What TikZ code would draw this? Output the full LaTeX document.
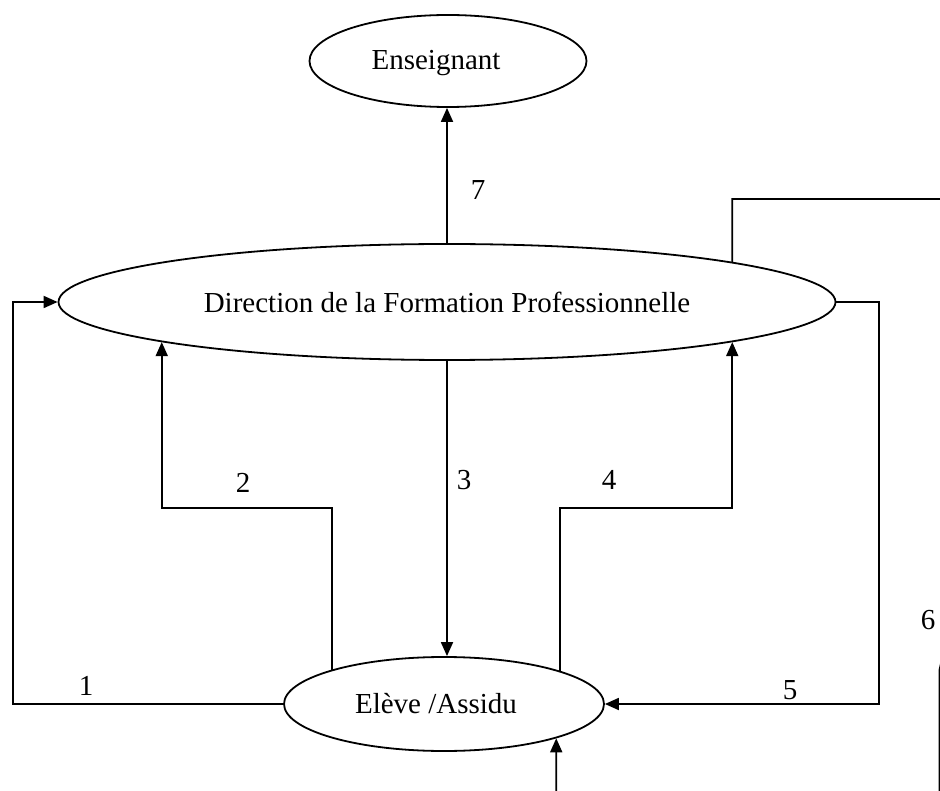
\documentclass[tikz,border=0pt]{standalone}
\usepackage{fontspec}
\setmainfont{Liberation Serif}
\usetikzlibrary{arrows.meta,shapes.geometric}
\begin{document}
\begin{tikzpicture}[x=1pt,y=-1pt, % y grows downward
  every node/.style={font=\fontsize{29}{34}\selectfont},
  entity/.style={draw, ellipse, line width=1.8pt, inner sep=0pt},
  flow/.style={line width=1.8pt},
  arr/.style={flow, -{Triangle[length=14pt,width=12pt]}},
  num/.style={inner sep=0pt}]
\useasboundingbox (0,0) rectangle (940,791);
\clip (0,0) rectangle (940,791);

% actors
\node[entity, minimum width=277pt, minimum height=92pt] (ens) at (448,61) {};
\node (enslabel) at ([xshift=-12pt,yshift=-2pt]ens.center) {Enseignant};
\node[entity, minimum width=777pt, minimum height=116pt] (dfp) at (447,302) {Direction de la Formation Professionnelle};
\node[entity, minimum width=320pt, minimum height=94pt] (elv) at (444,704) {};
\node (elvlabel) at ([xshift=-8pt]elv.center) {Elève /Assidu};

% routing rails
\coordinate (leftrail) at (13,0);
\coordinate (rightrail) at (879,0);
\coordinate (midrow) at (0,508);
\coordinate (toprow) at (0,199);
\coordinate (farright) at (944,0);
\coordinate (offpage) at (0,805);
\coordinate (edgeA) at (944,650);
\coordinate (edgeB) at (939.5,670);
\coordinate (edgeC) at (939.5,805);

% flows
\draw[arr] (elv.west) -- (elv.west -| leftrail) |- (dfp.west);
\draw[arr] (elv.163) -- (elv.163 |- midrow) -| (dfp.188.5);
\draw[arr] (dfp.south) -- (dfp.south |- elv.north);
\draw[arr] (elv.16) -- (elv.16 |- midrow) -| (dfp.-8.5);
\draw[arr] (dfp.east) -- (dfp.east -| rightrail) |- (elv.east);
\draw[arr] (dfp.8.5) -- (dfp.8.5 |- toprow) -- (toprow -| farright) -- (edgeA) -- (edgeB) -- (edgeC)
  -- (elv.-17 |- offpage) -- (elv.-17);
\draw[arr] (dfp.north) -- (dfp.north |- ens.south);

% flow numbers
\node[num] at (86,686) {1};
\node[num] at (243,483) {2};
\node[num] at (464,480) {3};
\node[num] at (609,480) {4};
\node[num] at (790,690) {5};
\node[num] at (928,620) {6};
\node[num] at (478,190) {7};
\end{tikzpicture}
\end{document}
